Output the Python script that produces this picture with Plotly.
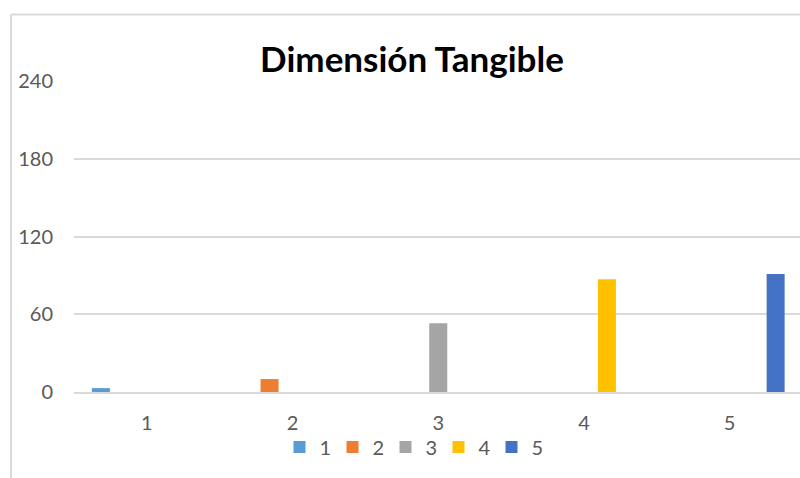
import plotly.graph_objects as go

# Data
categories = ["1", "2", "3", "4", "5"]
series_names = ["1", "2", "3", "4", "5"]
values = [3, 10, 53, 87, 91]
colors = ["#5B9BD5", "#ED7D31", "#A5A5A5", "#FFC000", "#4472C4"]
y_ticks = [0, 60, 120, 180, 240]

W, H = 800, 478
ML, MR, MT, MB = 74, 0, 81, 86
PW, PH = W - ML - MR, H - MT - MB


def px_x(px):
    return (px - ML) / PW


def px_y(py):
    return (H - MB - py) / PH


fig = go.Figure()
for i, name in enumerate(series_names):
    # each series only carries a value in its own category
    ys = [values[i] if j == i else None for j in range(len(categories))]
    fig.add_trace(go.Bar(
        x=categories,
        y=ys,
        name=name,
        offsetgroup=name,
        marker=dict(color=colors[i], line=dict(width=0)),
    ))

grey = "#595959"
border = "#D9D9D9"

fig.update_layout(
    width=W, height=H,
    margin=dict(l=ML, r=MR, t=MT, b=MB, autoexpand=False),
    paper_bgcolor="white", plot_bgcolor="white",
    barmode="group", bargap=0.211, bargroupgap=0.217,
    font=dict(family="Lato", size=20, color=grey),
    title=dict(
        text="<b>Dimensión Tangible</b>",
        font=dict(family="Lato", size=35, color="black"),
        x=px_x(412), xref="paper", xanchor="center",
        y=1 - 60 / H, yref="container", yanchor="middle",
    ),
    xaxis=dict(
        type="category", categoryorder="array", categoryarray=categories,
        range=[-0.5, -0.5 + PW / 145.7],
        showgrid=False, showline=True, linecolor=border, linewidth=2,
        ticks="", ticklabelstandoff=12,
        tickfont=dict(size=20, color=grey),
    ),
    yaxis=dict(
        range=[0, 240], tickvals=y_ticks, showgrid=True,
        gridcolor=border, gridwidth=2, zeroline=False, showline=False,
        ticks="", ticklabelstandoff=20,
        tickfont=dict(size=20, color=grey),
    ),
    legend=dict(
        orientation="h", x=px_x(412), xanchor="center",
        y=px_y(447), yanchor="middle",
        font=dict(size=20, color=grey),
        itemwidth=30, entrywidth=8, entrywidthmode="pixels",
        bgcolor="rgba(0,0,0,0)",
    ),
    showlegend=True,
)

# Chart-area frame (left and top edges)
fx, fy = px_x(11), px_y(14.5)
fig.add_shape(type="line", xref="paper", yref="paper",
              x0=fx, x1=fx, y0=px_y(H + 5), y1=fy,
              line=dict(color=border, width=2))
fig.add_shape(type="line", xref="paper", yref="paper",
              x0=fx, x1=px_x(W + 5), y0=fy, y1=fy,
              line=dict(color=border, width=2))

fig.write_html("out.html")
